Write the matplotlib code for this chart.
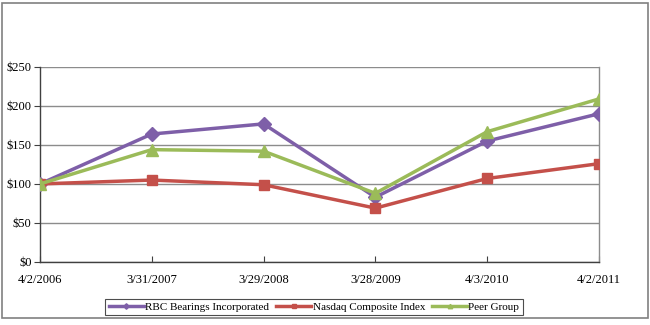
import matplotlib
matplotlib.use("Agg")
from matplotlib import pyplot as plt
from matplotlib.patches import Rectangle

dates = ["4/2/2006", "3/31/2007", "3/29/2008", "3/28/2009", "4/3/2010", "4/2/2011"]
rbc = [100, 164, 177, 83, 155, 190]
nasdaq = [100, 105, 99, 69, 107, 126]
peer = [100, 144, 142, 88, 167, 209]
yticks = [0, 50, 100, 150, 200, 250]

plt.rc("font", family=["Liberation Serif", "DejaVu Serif"])

fig = plt.figure(figsize=(6.5, 3.25), dpi=100)
fig.patches.append(Rectangle((0.003, 0.022), 0.994, 0.969, transform=fig.transFigure,
                             fill=False, edgecolor="#808080", linewidth=1.2))

ax = fig.add_axes([0.0615, 0.194, 0.86, 0.60])
x = range(len(dates))
ax.plot(x, rbc, color="#7E5FA8", marker="D", markersize=7, linewidth=2.5,
        label="RBC Bearings Incorporated", zorder=3)
ax.plot(x, nasdaq, color="#C4504A", marker="s", markersize=7, linewidth=2.5,
        label="Nasdaq Composite Index", zorder=3)
ax.plot(x, peer, color="#9BBB59", marker="^", markersize=8, linewidth=2.5,
        label="Peer Group", zorder=3)

ax.set_xlim(0, len(dates) - 1)
ax.set_ylim(0, 250)
ax.set_yticks(yticks)
ax.set_yticklabels(["$%d" % v for v in yticks], fontsize=9)
ax.set_xticks(list(x))
ax.set_xticklabels(dates, fontsize=9)
ax.yaxis.grid(True, color="#8c8c8c", linewidth=1)
ax.set_axisbelow(True)
ax.tick_params(axis="y", direction="out", length=4, color="#404040", pad=2)
ax.tick_params(axis="x", direction="in", length=4, color="#404040", pad=9)
ax.spines["top"].set_visible(False)
ax.spines["right"].set_color("#8c8c8c")
ax.spines["left"].set_color("#404040")
ax.spines["bottom"].set_color("#404040")
for s in ax.spines.values():
    s.set_linewidth(1)

leg = fig.legend(loc="center", bbox_to_anchor=(0.483, 0.055), ncol=3, fontsize=8,
                 frameon=True, fancybox=False, edgecolor="#202020",
                 handlelength=3.2, handletextpad=0.1, columnspacing=0.6,
                 borderpad=0.3, markerscale=0.4)
leg.get_frame().set_linewidth(0.8)

plt.savefig("out.png", dpi=100)
